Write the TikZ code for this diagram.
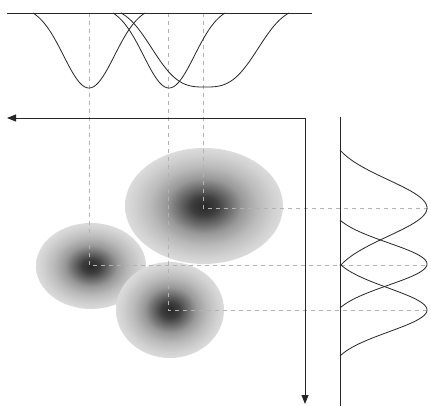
\documentclass[tikz,border=0pt]{standalone}
\usetikzlibrary{arrows.meta}
\pgfdeclareradialshading{blobshade}{\pgfpoint{0bp}{0bp}}{color(0bp)=(black!84); color(4bp)=(black!76); color(8bp)=(black!58); color(12bp)=(black!40); color(17bp)=(black!27); color(22bp)=(black!18); color(25bp)=(black!14); color(50bp)=(black!14)}
\begin{document}
\begin{tikzpicture}[x=1pt,y=-1pt,
  axis/.style={line width=0.8pt, draw=black!85},
  curve/.style={line width=0.8pt, draw=black!85, line join=round},
  guide/.style={line width=0.6pt, draw=black!30, dash pattern=on 4pt off 4pt},
  blob/.style={shading=blobshade},
  twoarrows/.style={{Triangle[length=9pt,width=7pt]}-{Triangle[length=9pt,width=7pt]}},
  declare function={
    tg(\u,\s,\w)=(exp(-(\u/\s)*(\u/\s))-exp(-(\w/\s)*(\w/\s)))/(1-exp(-(\w/\s)*(\w/\s)));
    sg(\u,\s,\w)=(exp(0-abs(\u/\s)*abs(\u/\s)*abs(\u/\s))-exp(0-(\w/\s)*(\w/\s)*(\w/\s)))/(1-exp(0-(\w/\s)*(\w/\s)*(\w/\s)));
  }]
\useasboundingbox[fill=white] (0,0) rectangle (431,406);

% blobs
\shade[blob] (91,266) ellipse [x radius=55pt, y radius=43pt];
\shade[blob] (204,206) ellipse [x radius=79pt, y radius=58pt];
\shade[blob] (170,310) ellipse [x radius=54pt, y radius=48pt];

% named points
\coordinate (c1) at (89,265);
\coordinate (c2) at (203,208);
\coordinate (c3) at (168,310);
\coordinate (t1) at (89,13);
\coordinate (t2) at (203,13);
\coordinate (t3) at (168,13);
\coordinate (r1) at (429,265);
\coordinate (r2) at (429,208);
\coordinate (r3) at (429,310);

% guides
\draw[guide] (t1) -- (c1) -- (r1);
\draw[guide] (t2) -- (c2) -- (r2);
\draw[guide] (t3) -- (c3) -- (r3);

% top axis and profiles
\coordinate (ta) at (7,13);
\coordinate (tb) at (312,13);
\draw[axis] (ta) -- (tb);
\draw[curve] plot[domain=-56:56, samples=80, smooth] ({89+\x}, {13+75*tg(\x,36,56)});
\draw[curve] plot[domain=-56:56, samples=80, smooth] ({169+\x}, {13+75*tg(\x,36,56)});
\draw[curve] plot[domain=-84:84, samples=100, smooth] ({205+\x}, {13+74*sg(\x,61,84)});

% right axis and profiles
\coordinate (ra) at (340,117);
\coordinate (rb) at (340,406);
\draw[axis] (ra) -- (rb);
\draw[curve] plot[domain=-58:58, samples=80, smooth] ({340+87*tg(\x,40,58)}, {208+\x});
\draw[curve] plot[domain=-44:44, samples=80, smooth] ({340+87*tg(\x,30,44)}, {264+\x});
\draw[curve] plot[domain=-46:46, samples=80, smooth] ({340+87*tg(\x,31,46)}, {310+\x});

% L-shaped arrows
\coordinate (corner) at (305,118);
\coordinate (leftend) at (7,118);
\coordinate (downend) at (305,404);
\draw[axis, twoarrows] (leftend) -- (corner) -- (downend);
\end{tikzpicture}
\end{document}
